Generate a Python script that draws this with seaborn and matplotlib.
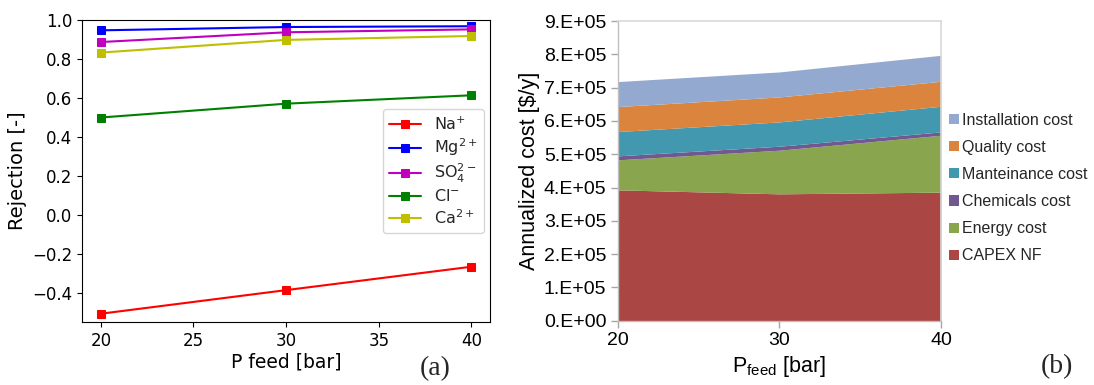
import numpy as np
import pandas as pd
import matplotlib
matplotlib.use("Agg")
import matplotlib.pyplot as plt
from matplotlib.patches import Patch
import seaborn as sns

# ---------------- data: panel (a) ----------------
p_feed = [20, 30, 40]
ions = ["Na$^{+}$", "Mg$^{2+}$", "SO$_4^{2-}$", "Cl$^{-}$", "Ca$^{2+}$"]
rej_na = [-0.506, -0.385, -0.265]
rej_mg = [0.947, 0.964, 0.968]
rej_so4 = [0.887, 0.937, 0.952]
rej_cl = [0.500, 0.571, 0.614]
rej_ca = [0.833, 0.898, 0.918]
ion_colors = ["#FF0000", "#0000FF", "#BF00BF", "#008000", "#BFBF00"]

# ---------------- data: panel (b) ----------------
cost_names = ["CAPEX NF", "Energy cost", "Chemicals cost",
              "Manteinance cost", "Quality cost", "Installation cost"]
capex = [3.93e5, 3.81e5, 3.86e5]
energy = [0.90e5, 1.31e5, 1.71e5]
chemicals = [0.12e5, 0.12e5, 0.10e5]
maintenance = [0.73e5, 0.73e5, 0.77e5]
quality = [0.75e5, 0.75e5, 0.75e5]
installation = [0.75e5, 0.75e5, 0.78e5]
cost_colors = ["#AA4643", "#89A54E", "#71588F", "#4198AF", "#DB843D", "#93A9CF"]
y_ticks_b = [0, 1e5, 2e5, 3e5, 4e5, 5e5, 6e5, 7e5, 8e5, 9e5]
y_tick_labels_b = ["0.E+00", "1.E+05", "2.E+05", "3.E+05", "4.E+05",
                   "5.E+05", "6.E+05", "7.E+05", "8.E+05", "9.E+05"]

sns.set_theme(style="ticks")
plt.rcParams.update({
    "font.family": ["DejaVu Sans"],
    "axes.facecolor": "white",
    "figure.facecolor": "white",
})

W, H = 1094, 385
fig = plt.figure(figsize=(W / 100, H / 100), dpi=100)

# ---------------- panel (a) ----------------
ax1 = fig.add_axes([82.3 / W, 1 - 322.3 / H, (490 - 82.3) / W, (322.3 - 20) / H])
df = pd.DataFrame({
    "P": p_feed * 5,
    "R": rej_na + rej_mg + rej_so4 + rej_cl + rej_ca,
    "ion": [i for i in ions for _ in p_feed],
})
sns.lineplot(data=df, x="P", y="R", hue="ion", hue_order=ions,
             palette=dict(zip(ions, ion_colors)), marker="s", markersize=6,
             linewidth=1.5, ax=ax1, legend=True)
for ln in ax1.lines:
    ln.set_markeredgecolor(ln.get_color())
ax1.set_xlim(19, 41)
ax1.set_ylim(-0.55, 1.0)
ax1.set_xticks([20, 25, 30, 35, 40])
ax1.set_yticks([-0.4, -0.2, 0.0, 0.2, 0.4, 0.6, 0.8, 1.0])
ax1.tick_params(labelsize=12, length=3.5, width=0.8, color="black", labelcolor="black")
for s in ax1.spines.values():
    s.set_visible(True)
    s.set_color("black")
    s.set_linewidth(0.8)
ax1.set_xlabel("P feed [bar]", fontsize=13.5, color="black", labelpad=2)
ax1.set_ylabel("Rejection [-]", fontsize=14, color="black", labelpad=4)
handles, labels = ax1.get_legend_handles_labels()
for h in handles:
    h.set_markeredgecolor(h.get_color())
ax1.legend(handles, labels, loc="center right", fontsize=11.5, title=None,
           frameon=True, framealpha=0.8, edgecolor="#cccccc", fancybox=True,
           labelspacing=0.22, borderaxespad=0.4)

fig.text(435 / W, 1 - 369 / H, "(a)", family="Liberation Serif", fontsize=20,
         ha="center", va="center")

# ---------------- panel (b) ----------------
ax2 = fig.add_axes([617.5 / W, 1 - 320.7 / H, (941 - 617.5) / W, (320.7 - 21) / H])
ax2.stackplot(p_feed, capex, energy, chemicals, maintenance, quality, installation,
              colors=cost_colors, linewidth=0)
ax2.set_xlim(20, 40)
ax2.set_ylim(0, 9e5)
ax2.set_xticks([20, 30, 40])
ax2.set_yticks(y_ticks_b)
ax2.set_yticklabels(y_tick_labels_b)
for lab in ax2.get_xticklabels() + ax2.get_yticklabels():
    lab.set_family("Liberation Sans")
ax2.tick_params(labelsize=14, length=5, width=1.0, color="#A6A6A6", labelcolor="black",
                pad=3)
for side in ["left", "bottom"]:
    ax2.spines[side].set_color("#BFBFBF")
    ax2.spines[side].set_linewidth(1.0)
for side in ["top", "right"]:
    ax2.spines[side].set_visible(True)
    ax2.spines[side].set_color("#D9D9D9")
    ax2.spines[side].set_linewidth(1.2)
ax2.set_ylabel(r"Annualized cost [\$/y]", fontsize=15.5, family="Liberation Sans",
               color="black", labelpad=3)
ax2.set_xlabel(r"P$_{\mathregular{feed}}$ [bar]", fontsize=15.5, family="Liberation Sans",
               color="black", labelpad=4)

leg_handles = [Patch(facecolor=c, edgecolor="none") for c in cost_colors][::-1]
leg_labels = cost_names[::-1]
fig.legend(leg_handles, leg_labels, loc="center left",
           bbox_to_anchor=(949 / W, 1 - 188 / H), frameon=False,
           prop={"family": "Liberation Sans", "size": 11.5},
           handlelength=0.6, handleheight=0.6, handletextpad=0.2,
           labelspacing=0.76, borderpad=0, borderaxespad=0)

fig.text(1057 / W, 1 - 367 / H, "(b)", family="Liberation Serif", fontsize=20,
         ha="center", va="center")

fig.savefig("out.png", dpi=100)
